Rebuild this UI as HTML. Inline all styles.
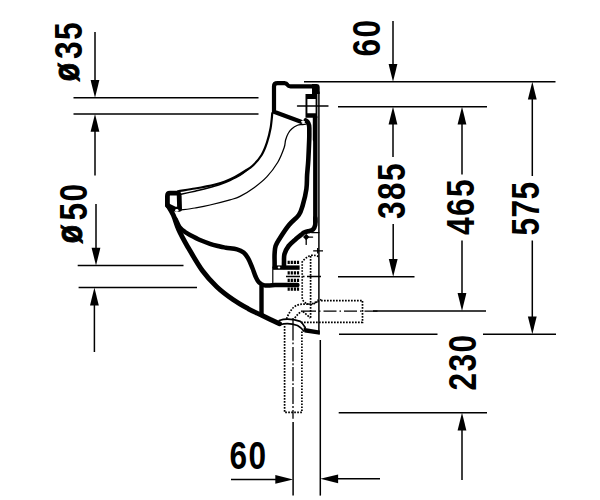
<!DOCTYPE html>
<html><head><meta charset="utf-8"><style>
html,body{margin:0;padding:0;background:#fff;width:600px;height:500px;overflow:hidden}
svg{display:block}
text{font-family:"Liberation Sans",sans-serif;font-weight:bold;fill:#000}
</style></head><body>
<svg width="600" height="500" viewBox="0 0 600 500">
<defs>
<path id="ah" d="M0,0 L-4.4,-17.8 L4.4,-17.8 Z"/>
</defs>
<g stroke="#000" stroke-width="1.5" fill="none">
<!-- left dims -->
<line x1="73.5" y1="97.8" x2="258.5" y2="97.8"/>
<line x1="73.5" y1="114" x2="258.5" y2="114"/>
<line x1="95" y1="32" x2="95" y2="90"/>
<line x1="95" y1="125" x2="95" y2="175.5"/>
<line x1="96" y1="204" x2="96" y2="255"/>
<line x1="77.7" y1="265.6" x2="183.5" y2="265.6"/>
<line x1="78.6" y1="287.6" x2="197" y2="287.6"/>
<line x1="94.4" y1="295" x2="94.4" y2="352"/>
<!-- top right dims -->
<line x1="393" y1="21" x2="393" y2="70"/>
<line x1="304" y1="81.7" x2="555.5" y2="81.7"/>
<line x1="338" y1="106.7" x2="487" y2="106.7"/>
<line x1="393" y1="115" x2="393" y2="157"/>
<line x1="393.2" y1="224" x2="393.2" y2="265"/>
<line x1="338" y1="276.7" x2="414.5" y2="276.7"/>
<line x1="462" y1="115" x2="462" y2="174.5"/>
<line x1="462" y1="240.5" x2="462" y2="300"/>
<line x1="373" y1="310.9" x2="486" y2="310.9"/>
<line x1="532.3" y1="90" x2="532.3" y2="176"/>
<line x1="532.3" y1="240.5" x2="532.3" y2="325"/>
<line x1="339" y1="334.3" x2="437.5" y2="334.3"/>
<line x1="483" y1="334.3" x2="556" y2="334.3"/>
<line x1="338.7" y1="412.8" x2="487" y2="412.8"/>
<line x1="462" y1="420" x2="462" y2="480"/>
<line x1="320.3" y1="340" x2="320.3" y2="495.6"/>
<line x1="330" y1="478.8" x2="380" y2="478.8"/>
<line x1="293.1" y1="422" x2="293.1" y2="495.6"/>
<line x1="231" y1="479.4" x2="285" y2="479.4"/>
</g>
<g fill="#000">
<use href="#ah" transform="translate(95,97.8)"/>
<use href="#ah" transform="translate(95,114) rotate(180)"/>
<use href="#ah" transform="translate(96,265.6)"/>
<use href="#ah" transform="translate(94.4,287.6) rotate(180)"/>
<use href="#ah" transform="translate(393,81.7)"/>
<use href="#ah" transform="translate(393,106.7) rotate(180)"/>
<use href="#ah" transform="translate(393.2,276.7)"/>
<use href="#ah" transform="translate(462,106.7) rotate(180)"/>
<use href="#ah" transform="translate(462,310.9)"/>
<use href="#ah" transform="translate(532.3,81.7) rotate(180)"/>
<use href="#ah" transform="translate(532.3,334.3)"/>
<use href="#ah" transform="translate(462,412.8) rotate(180)"/>
<use href="#ah" transform="translate(320.3,478.8) rotate(90)"/>
<use href="#ah" transform="translate(293.1,479.4) rotate(-90)"/>
</g>
<!-- texts -->
<g font-size="39.5" letter-spacing="1.8">
<text transform="translate(81.8,59) rotate(-90) scale(0.8,1)">35</text>
<text transform="translate(78.6,81.3) rotate(-90) scale(0.82,1)" font-size="36.5" letter-spacing="0" stroke="#000" stroke-width="1">ø</text>
<text transform="translate(86.5,220.5) rotate(-90) scale(0.8,1)">50</text>
<text transform="translate(82.4,243.3) rotate(-90) scale(0.82,1)" font-size="36.5" letter-spacing="0" stroke="#000" stroke-width="1">ø</text>
<text transform="translate(380.3,56.5) rotate(-90) scale(0.8,1)">60</text>
<text transform="translate(405.3,219) rotate(-90) scale(0.8,1)">385</text>
<text transform="translate(473.7,235) rotate(-90) scale(0.8,1)">465</text>
<text transform="translate(538.7,235.5) rotate(-90) scale(0.8,1)" letter-spacing="0.6">575</text>
<text transform="translate(475.8,390.5) rotate(-90) scale(0.8,1)">230</text>
<text transform="translate(229.5,469.2) scale(0.8,1)">60</text>
</g>
<!-- urinal -->
<g stroke="#000" fill="none" stroke-linecap="round" stroke-linejoin="round">
<!-- back top outline -->
<path stroke-width="4.2" d="M301,121.8 L274,111.8 L274,86.5 Q274,83.2 277.5,83.2 L284.5,83.2 Q286.5,83.2 287.5,84.8 Q288.5,86.3 290.5,86.3 L314,86.3"/>
<path fill="#000" stroke="none" d="M312,84.1 L316.5,84.1 Q319.7,84.1 319.7,87.5 L319.7,94 L312,94 Z"/>
<path stroke-width="4.4" d="M315.3,117 L315.3,222"/>
<path stroke-width="1.5" d="M318.9,92 L318.9,333.5"/>
<!-- slot -->
<path fill="#000" stroke="none" fill-rule="evenodd" d="M305.5,94 L317.4,94 L317.4,117.8 L305.5,117.8 Z M307.4,99 L315.6,99 L315.6,113.2 L307.4,113.2 Z"/>
<path stroke-width="3" d="M314.3,117 L314.3,140"/>
<path stroke-width="1.4" d="M297.5,106 L328,106"/>
<!-- channel left -->
<path stroke-width="4.6" d="M305.8,120.5 Q309.3,122.5 309.3,128 L309.3,130.0 C309.3,131.7 309.4,135.0 309.2,140.0 C309.0,145.0 308.6,154.2 308.3,160.0 C308.0,165.8 307.4,170.2 307.1,175.0 C306.8,179.8 307.1,184.0 306.4,189.0 C305.7,194.0 304.1,200.7 302.8,205.0 C301.5,209.3 301.1,211.7 298.8,215.0 C296.5,218.3 292.1,221.2 289.0,225.0 C285.9,228.8 282.2,234.5 280.0,238.0 C277.8,241.5 276.5,243.3 275.6,246.0 C274.7,248.7 274.8,251.3 274.6,254.0 C274.4,256.7 274.6,259.8 274.6,262.0 C274.6,264.2 274.6,266.2 274.6,267.0"/>
<!-- channel right -->
<path stroke-width="4.6" d="M315.3,218.0 C315.3,219.2 315.6,223.1 315.2,225.0 C314.8,226.9 314.2,228.4 313.0,229.5 C311.8,230.6 309.5,230.8 308.0,231.3 C306.5,231.8 305.1,232.0 304.0,232.5 C302.9,233.0 302.9,233.3 301.5,234.5 C300.1,235.7 297.5,237.6 295.4,239.5 C293.2,241.4 290.4,243.6 288.6,246.0 C286.8,248.4 285.3,251.3 284.5,254.0 C283.7,256.7 284.1,259.8 284.0,262.0 C283.9,264.2 284.0,266.2 284.0,267.0"/>
<line x1="311.5" y1="232.6" x2="319" y2="232.6" stroke-width="1.2"/>
<path stroke-width="1.3" d="M306.2,237.1 L312.6,237.1 M306.2,237 L306.2,244.4"/>
<path fill="#000" stroke="none" d="M306.2,233.8 L309.4,237 L306.2,240.2 L303,237 Z"/>
<!-- rect / bars -->
<path stroke-width="4.4" stroke-linecap="butt" d="M273,267.6 L299.6,267.6"/>
<path stroke-width="1.2" d="M272.8,267 L272.8,283"/>

<path stroke-width="4.4" d="M261.5,286 L261.5,314"/>
<!-- bowl inner line -->
<path stroke-width="4.5" d="M175.5,219.0 C176.2,220.3 177.9,224.8 179.5,227.0 C181.1,229.2 183.2,230.7 185.0,232.0 C186.8,233.3 187.5,233.7 190.0,235.0 C192.5,236.3 196.7,238.5 200.0,240.0 C203.3,241.5 206.7,242.7 210.0,243.8 C213.3,244.9 217.3,245.8 220.0,246.5 C222.7,247.2 223.2,247.2 226.0,247.7 C228.8,248.2 234.1,248.5 237.0,249.3 C239.9,250.1 241.8,251.1 243.6,252.6 C245.4,254.1 246.5,255.5 248.0,258.1 C249.5,260.7 251.1,264.9 252.4,268.0 C253.7,271.1 254.6,274.4 255.7,276.8 C256.8,279.2 257.5,280.9 259.0,282.3 C260.5,283.7 261.8,284.9 264.5,285.4 C267.2,285.9 269.5,285.2 275.0,285.1 C280.5,285.0 293.7,285.0 297.4,285.0"/>
<!-- outer shell from lip -->
<path stroke-width="4.9" d="M167.5,205.0 C168.5,206.7 171.4,210.8 173.3,215.0 C175.2,219.2 176.4,224.7 178.8,230.0 C181.2,235.3 183.9,240.2 187.8,247.0 C191.8,253.8 197.7,264.2 202.5,270.8 C207.3,277.4 211.6,281.9 216.7,286.7 C221.8,291.5 228.0,296.1 233.3,299.8 C238.6,303.5 243.6,306.2 248.3,308.8 C253.0,311.4 256.5,312.8 261.7,315.3 C266.9,317.8 276.5,322.4 279.5,323.8"/>
<path fill="#000" stroke="none" d="M303.5,327.8 L319.8,330.6 L319.8,334.8 L304.5,332.6 Z"/>
<!-- pipe sleeve -->
<path stroke-width="1.7" d="M279.2,320.5 Q288,317.5 300.3,321.4 Q303,323.5 305.2,327.5"/>
<path stroke-width="1.7" d="M280,324.8 Q288,322 297.5,325.5 Q301,327.5 303.8,331"/>
<!-- lip -->
<path stroke-width="4.8" d="M167.4,205.5 L167.4,196 Q167.4,193.2 170,193.2 L177,193.2 Q179.2,193.2 179.2,196 L179.6,209.4 L174.5,209 L167.4,205.5 Z"/>
<!-- upper wing double line -->
<path stroke-width="2.2" d="M272.3,113.0 C272.0,115.5 271.5,123.1 270.6,128.0 C269.7,132.9 268.5,137.9 267.0,142.4 C265.5,146.9 264.0,151.1 261.6,155.0 C259.2,158.9 255.4,163.1 252.6,165.8 C249.8,168.5 247.9,169.1 245.0,171.0 C242.1,172.9 238.3,175.2 235.0,177.0 C231.7,178.8 228.3,180.2 225.0,181.5 C221.7,182.8 220.0,183.3 215.0,184.5 C210.0,185.7 201.2,187.4 195.0,188.5 C188.8,189.6 180.8,190.8 178.0,191.3"/>
<path stroke-width="1.4" d="M248.0,169.5 C246.7,170.5 243.0,173.7 240.0,175.5 C237.0,177.3 233.3,179.0 230.0,180.5 C226.7,182.0 223.7,183.2 220.0,184.5 C216.3,185.8 212.2,186.9 208.0,188.0 C203.8,189.1 199.5,190.1 195.0,191.2 C190.5,192.2 183.3,193.8 181.0,194.3"/>
<!-- lower wing thin line -->
<path stroke-width="1.25" d="M306.0,124.2 C305.2,124.3 302.9,124.4 301.5,124.6 C300.1,124.8 299.1,124.6 297.5,125.3 C295.9,126.0 293.4,127.5 291.9,128.8 C290.4,130.1 289.4,131.1 288.4,133.0 C287.3,134.9 286.3,137.5 285.6,140.0 C284.9,142.5 285.4,144.1 284.1,147.8 C282.8,151.5 280.7,157.4 277.8,162.2 C274.9,167.0 270.9,172.4 267.0,176.6 C263.1,180.8 258.9,184.1 254.4,187.4 C249.9,190.7 244.1,194.3 240.0,196.4 C235.9,198.5 235.0,198.4 230.0,199.8 C225.0,201.2 215.8,203.6 210.0,205.0 C204.2,206.4 200.1,207.1 195.0,208.0 C189.9,208.9 181.8,209.8 179.2,210.2"/>
<ellipse cx="303" cy="121.8" rx="2" ry="1.1" fill="#fff" stroke="none"/>
<ellipse cx="176.8" cy="210.3" rx="1.7" ry="1.4" fill="#fff" stroke="none"/>
<ellipse cx="279" cy="267.5" rx="1.3" ry="1.1" fill="#fff" stroke="none"/>
</g>
<!-- dotted pipes -->
<g stroke="#000" fill="none" stroke-width="1.7" stroke-dasharray="1.7 1.3">
<path d="M318.4,256.7 Q316,254.8 310.6,255.4 Q305.4,257.4 302.2,262 L302.2,298 Q303,303.5 310.5,304.5 Q316.5,304 318.4,299.6"/>
<path d="M310.6,256 L310.6,318"/>
<path d="M321,300.6 L362.5,300.6 L362.5,322.3 L301,322.3"/>
<path d="M284.6,326 L284.6,412.4 L301.9,412.4 L301.9,331"/>
<path d="M286.5,318.9 Q289.3,311.5 293.9,306.9 Q298,304.2 302.1,304.2 L311.3,304.2 Q316,302 321.4,299.6"/>
<path d="M294.8,318 Q298.4,312.9 303,310.6"/>
<path d="M303,311.5 L310.4,318"/>
<path d="M287.6,262.4 L299.6,262.4 M287.6,272.8 L299.6,272.8 M287.6,280.4 L299.6,280.4 M287.6,289.2 L299.6,289.2" stroke-width="3.2" stroke-dasharray="2.2 0.9"/>
</g>
<g stroke="#000" fill="none" stroke-width="1.3">
<path d="M303,311.1 L380,311.1" stroke-dasharray="13 3 1.5 3"/>
<path d="M293,318 L293,340.5 M293,342.4 L293,344.3 M293,347 L293,361.4 M293,363.3 L293,365.2 M293,367 L293,381.3 M293,383.2 L293,385.1 M293,387 L293,404 M293,406 L293,408 M293,410 L293,418.8"/>
<line x1="286" y1="276.5" x2="323" y2="276.5" stroke-dasharray="14 2.5 2 2.5"/>
<path d="M313.2,250.8 L323,250.8 M317.7,248 L317.7,253.5"/>
</g>
</svg>
</body></html>
